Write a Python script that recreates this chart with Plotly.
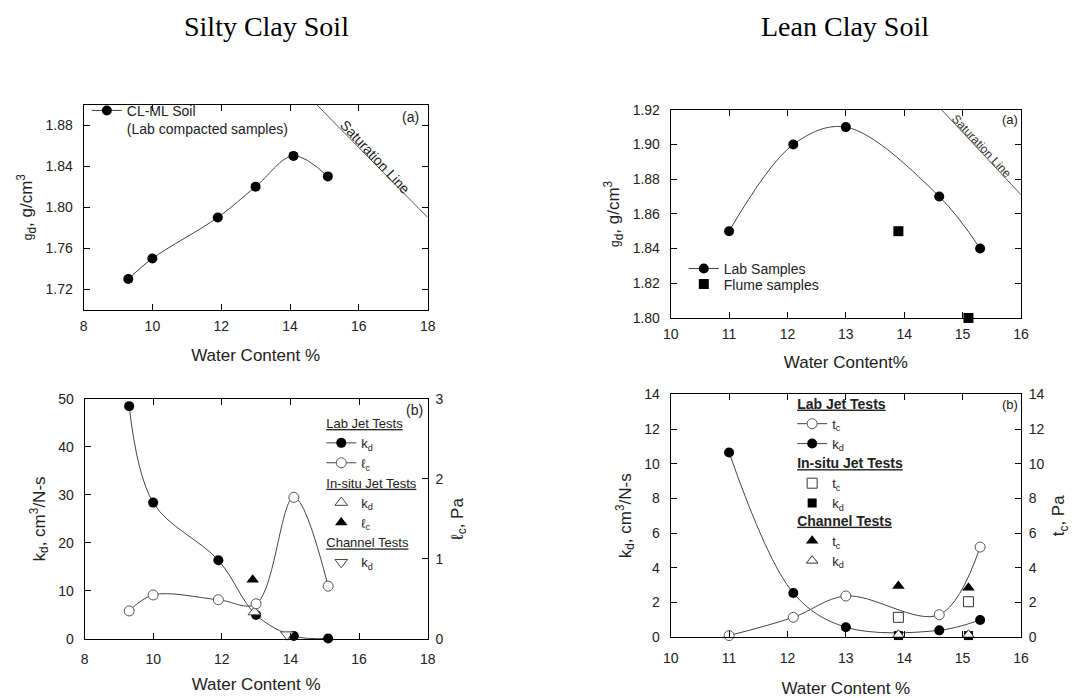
import plotly.graph_objects as go

W, H = 1075, 698

# ---------------- data ----------------
# Top-left: Silty clay (CL-ML) compaction
tl_w = [9.3, 10.0, 11.9, 13.0, 14.1, 15.1]
tl_gd = [1.73, 1.75, 1.79, 1.82, 1.85, 1.83]
tl_sat_w = [14.77, 18.0]
tl_sat_gd = [1.90, 1.79]

# Top-right: Lean clay compaction
tr_lab_w = [11.0, 12.1, 13.0, 14.6, 15.3]
tr_lab_gd = [1.85, 1.90, 1.91, 1.87, 1.84]
tr_flume_w = [13.9, 15.1]
tr_flume_gd = [1.85, 1.80]
tr_sat_w = [14.64, 16.0]
tr_sat_gd = [1.92, 1.871]

# Bottom-left: silty clay erodibility
bl_w = [9.3, 10.0, 11.9, 13.0, 14.1, 15.1]
bl_kd = [48.5, 28.4, 16.4, 5.0, 0.6, 0.1]
bl_tc = [0.35, 0.55, 0.49, 0.44, 1.77, 0.66]
bl_insitu_kd_w = [12.95]
bl_insitu_kd = [5.6]
bl_insitu_tc_w = [12.9]
bl_insitu_tc = [0.74]
bl_chan_kd_w = [13.9]
bl_chan_kd = [0.9]

# Bottom-right: lean clay erodibility
br_w = [11.0, 12.1, 13.0, 14.6, 15.3]
br_kd = [10.65, 2.55, 0.58, 0.4, 1.0]
br_tc = [0.1, 1.15, 2.38, 1.3, 5.2]
br_insitu_w = [13.9, 15.1]
br_insitu_tc = [1.15, 2.05]
br_insitu_kd = [0.1, 0.1]
br_chan_w = [13.9, 15.1]
br_chan_tc = [2.95, 2.85]
br_chan_kd = [0.15, 0.15]

# ---------------- styles ----------------
FONT = "Liberation Sans, Arial, sans-serif"
LINE = dict(color="#444", width=1, shape="spline", smoothing=1.0)
FILLED = dict(color="black", size=10)
OPEN = dict(color="white", size=10, line=dict(color="#555", width=1))

def px_x(p):
    return p / W

def px_y(p):
    return 1 - p / H

fig = go.Figure()

# Top-left
fig.add_trace(go.Scatter(x=tl_w, y=tl_gd, mode="lines+markers", line=LINE, marker=FILLED,
                         name="CL-ML Soil<br>(Lab compacted samples)", xaxis="x", yaxis="y",
                         legend="legend", cliponaxis=False))
fig.add_trace(go.Scatter(x=tl_sat_w, y=tl_sat_gd, mode="lines", line=dict(color="#555", width=1),
                         showlegend=False, xaxis="x", yaxis="y"))

# Top-right
fig.add_trace(go.Scatter(x=tr_lab_w, y=tr_lab_gd, mode="lines+markers", line=LINE, marker=FILLED,
                         name="Lab Samples", xaxis="x2", yaxis="y2", legend="legend2", cliponaxis=False))
fig.add_trace(go.Scatter(x=tr_flume_w, y=tr_flume_gd, mode="markers",
                         marker=dict(color="black", size=10, symbol="square"),
                         name="Flume samples", xaxis="x2", yaxis="y2", legend="legend5", cliponaxis=False))
fig.add_trace(go.Scatter(x=tr_sat_w, y=tr_sat_gd, mode="lines", line=dict(color="#555", width=1),
                         showlegend=False, xaxis="x2", yaxis="y2"))

# Bottom-left
GT_BL = dict(font=dict(family=FONT, size=13, color="#222"))
fig.add_trace(go.Scatter(x=bl_w, y=bl_kd, mode="lines+markers", line=LINE, marker=FILLED,
                         name="k<sub>d</sub>", legendgroup="lab", legendgrouptitle=dict(text="<u>Lab Jet Tests</u>", **GT_BL),
                         xaxis="x3", yaxis="y3", legend="legend3", cliponaxis=False))
fig.add_trace(go.Scatter(x=bl_w, y=bl_tc, mode="lines+markers", line=LINE, marker=OPEN,
                         name="ℓ<sub>c</sub>", legendgroup="lab",
                         xaxis="x3", yaxis="y4", legend="legend3", cliponaxis=False))
fig.add_trace(go.Scatter(x=bl_insitu_kd_w, y=bl_insitu_kd, mode="markers",
                         marker=dict(symbol="triangle-up", color="white", size=11, line=dict(color="#444", width=1)),
                         name="k<sub>d</sub>", legendgroup="insitu",
                         legendgrouptitle=dict(text="<u>In-situ Jet Tests</u>", **GT_BL),
                         xaxis="x3", yaxis="y3", legend="legend3", cliponaxis=False))
fig.add_trace(go.Scatter(x=bl_insitu_tc_w, y=bl_insitu_tc, mode="markers",
                         marker=dict(symbol="triangle-up", color="black", size=11),
                         name="ℓ<sub>c</sub>", legendgroup="insitu",
                         xaxis="x3", yaxis="y4", legend="legend3", cliponaxis=False))
fig.add_trace(go.Scatter(x=bl_chan_kd_w, y=bl_chan_kd, mode="markers",
                         marker=dict(symbol="triangle-down", color="white", size=11, line=dict(color="#444", width=1)),
                         name="k<sub>d</sub>", legendgroup="chan",
                         legendgrouptitle=dict(text="<u>Channel Tests</u>", **GT_BL),
                         xaxis="x3", yaxis="y3", legend="legend3", cliponaxis=False))

# Bottom-right
GT_BR = dict(font=dict(family=FONT, size=14, color="#222"))
fig.add_trace(go.Scatter(x=br_w, y=br_tc, mode="lines+markers", line=LINE, marker=OPEN,
                         name="t<sub>c</sub>", legendgroup="lab2",
                         legendgrouptitle=dict(text="<b><u>Lab Jet Tests</u></b>", **GT_BR),
                         xaxis="x4", yaxis="y6", legend="legend4", cliponaxis=False))
fig.add_trace(go.Scatter(x=br_w, y=br_kd, mode="lines+markers", line=LINE, marker=FILLED,
                         name="k<sub>d</sub>", legendgroup="lab2",
                         xaxis="x4", yaxis="y5", legend="legend4", cliponaxis=False))
fig.add_trace(go.Scatter(x=br_insitu_w, y=br_insitu_tc, mode="markers",
                         marker=dict(symbol="square", color="white", size=10, line=dict(color="#333", width=1)),
                         name="t<sub>c</sub>", legendgroup="insitu2",
                         legendgrouptitle=dict(text="<b><u>In-situ Jet Tests</u></b>", **GT_BR),
                         xaxis="x4", yaxis="y6", legend="legend6", cliponaxis=False))
fig.add_trace(go.Scatter(x=br_insitu_w, y=br_insitu_kd, mode="markers",
                         marker=dict(symbol="square", color="black", size=9),
                         name="k<sub>d</sub>", legendgroup="insitu2",
                         xaxis="x4", yaxis="y5", legend="legend6", cliponaxis=False))
fig.add_trace(go.Scatter(x=br_chan_w, y=br_chan_tc, mode="markers",
                         marker=dict(symbol="triangle-up", color="black", size=11),
                         name="t<sub>c</sub>", legendgroup="chan2",
                         legendgrouptitle=dict(text="<b><u>Channel Tests</u></b>", **GT_BR),
                         xaxis="x4", yaxis="y6", legend="legend7", cliponaxis=False))
fig.add_trace(go.Scatter(x=br_chan_w, y=br_chan_kd, mode="markers",
                         marker=dict(symbol="triangle-up", color="white", size=10, line=dict(color="#333", width=1)),
                         name="k<sub>d</sub>", legendgroup="chan2",
                         xaxis="x4", yaxis="y5", legend="legend7", cliponaxis=False))

# ---------------- axes ----------------
TICKF = dict(family=FONT, size=14, color="#222")
TITF = dict(family=FONT, size=17, color="#222")

def xax(dom, rng, dt, anchor, title="Water Content %", standoff=14, tls=2):
    return dict(domain=dom, range=rng, dtick=dt, tick0=rng[0], showline=True, linecolor="black", linewidth=1,
                mirror="ticks", ticks="inside", ticklen=6, tickcolor="black", showgrid=False, zeroline=False,
                tickfont=TICKF, ticklabelstandoff=tls,
                title=dict(text=title, font=TITF, standoff=standoff), anchor=anchor)

def yax(dom, rng, tickvals, fmt, anchor, title, mirror="ticks"):
    return dict(domain=dom, range=rng, tickvals=tickvals, tickformat=fmt, showline=True, linecolor="black",
                linewidth=1, mirror=mirror, ticks="inside", ticklen=6, tickcolor="black", showgrid=False,
                zeroline=False, tickfont=TICKF, ticklabelstandoff=7,
                title=dict(text=title, font=TITF, standoff=8), anchor=anchor)

def yright(rng, tickvals, over, anchor, title):
    return dict(range=rng, tickvals=tickvals, overlaying=over, side="right", anchor=anchor,
                showline=True, linecolor="black", linewidth=1, ticks="inside", ticklen=6, tickcolor="black",
                showgrid=False, zeroline=False, tickfont=TICKF, ticklabelstandoff=4,
                title=dict(text=title, font=TITF, standoff=8))

TL_X = [px_x(76.7), px_x(426)]
TL_Y = [px_y(309.3), px_y(99)]
TR_X = [px_x(672.7), px_x(1028.3)]
TR_Y = [px_y(317.7), px_y(104.3)]
BL_X = [px_x(77.7), px_x(426)]
BL_Y = [px_y(646.7), px_y(400.7)]
BR_X = [px_x(672.7), px_x(1028.3)]
BR_Y = [px_y(645), px_y(396)]

gd_title = "<span style='font-size:12px'>g</span><sub>d</sub>, g/cm<sup>3</sup>"
fig.update_layout(
    xaxis=xax(TL_X, [8, 18], 2, "y", standoff=16, tls=3),
    yaxis=yax(TL_Y, [1.70, 1.90], [1.72, 1.76, 1.80, 1.84, 1.88], ".2f", "x", gd_title),
    xaxis2=xax(TR_X, [10, 16], 1, "y2", "Water Content%", standoff=15, tls=3),
    yaxis2=yax(TR_Y, [1.80, 1.92], [1.80, 1.82, 1.84, 1.86, 1.88, 1.90, 1.92], ".2f", "x2", gd_title),
    xaxis3=xax(BL_X, [8, 18], 2, "y3", standoff=12, tls=7),
    yaxis3=yax(BL_Y, [0, 50], [0, 10, 20, 30, 40, 50], "d", "x3", "k<sub>d</sub>, cm<sup>3</sup>/N-s", mirror=False),
    yaxis4=yright([0, 3], [0, 1, 2, 3], "y3", "x3", "ℓ<sub>c</sub>, Pa"),
    xaxis4=xax(BR_X, [10, 16], 1, "y5", standoff=20, tls=8),
    yaxis5=yax(BR_Y, [0, 14], list(range(0, 15, 2)), "d", "x4", "k<sub>d</sub>, cm<sup>3</sup>/N-s", mirror=False),
    yaxis6=yright([0, 14], list(range(0, 15, 2)), "y5", "x4", "t<sub>c</sub>, Pa"),
)

LEG = dict(bgcolor="rgba(0,0,0,0)", borderwidth=0, xanchor="left", yanchor="top",
           tracegroupgap=0, itemclick=False, itemdoubleclick=False)
F13 = dict(family=FONT, size=13, color="#222")
F14 = dict(family=FONT, size=14, color="#222")
fig.update_layout(
    legend=dict(x=px_x(80), y=px_y(89), font=F14, valign="top", **LEG),
    legend2=dict(x=px_x(686), y=px_y(251), font=F14, **LEG),
    legend5=dict(x=px_x(686), y=px_y(267), font=F14, **LEG),
    legend3=dict(x=px_x(318), y=px_y(410), font=F13, **LEG),
    legend4=dict(x=px_x(796), y=px_y(389), font=F13, **LEG),
    legend6=dict(x=px_x(796), y=px_y(450), font=F13, **LEG),
    legend7=dict(x=px_x(796), y=px_y(509), font=F13, **LEG),
)

SERIF = dict(family="Liberation Serif, Times New Roman, serif", size=28, color="black")
ann = []
def add_ann(text, x, y, font, xref="paper", yref="paper", **kw):
    ann.append(dict(text=text, x=x, y=y, xref=xref, yref=yref, showarrow=False,
                    xanchor="center", yanchor="middle", font=font, **kw))

add_ann("Silty Clay Soil", px_x(262), px_y(19), SERIF)
add_ann("Lean Clay Soil", px_x(850), px_y(19), SERIF)
add_ann("(a)", px_x(409), px_y(112), F14)
add_ann("(a)", px_x(1017), px_y(114), F13)
add_ann("(b)", px_x(413), px_y(412), F14)
add_ann("(b)", px_x(1017), px_y(406), F13)
add_ann("Saturation Line", 16.48, 1.849, F14, xref="x", yref="y", textangle=47)
add_ann("Saturation Line", 15.32, 1.899, dict(family=FONT, size=12, color="#333"), xref="x2", yref="y2", textangle=47)
fig.update_layout(annotations=ann)

fig.update_layout(width=W, height=H, margin=dict(l=0, r=0, t=0, b=0),
                  paper_bgcolor="white", plot_bgcolor="white", showlegend=True)

fig.write_html("out.html")
